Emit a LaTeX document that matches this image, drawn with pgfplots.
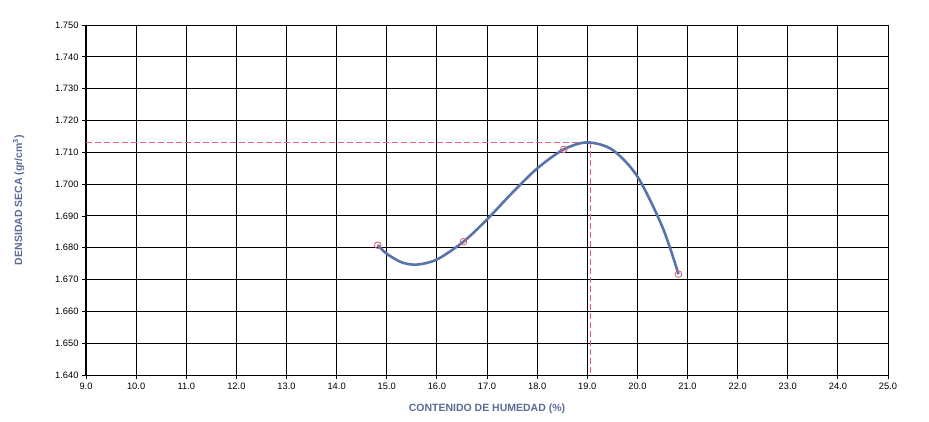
\documentclass[border=0pt]{standalone}
\usepackage{pgfplots}
\pgfplotsset{compat=1.18}
\usepackage{fontspec}
\setmainfont{Liberation Sans}
\definecolor{labcol}{RGB}{88,108,150}
\definecolor{curvecol}{RGB}{88,116,168}
\definecolor{dashcol}{RGB}{228,96,120}
\begin{document}
\begin{tikzpicture}
\begin{axis}[
  name=ax,
  scale only axis,
  width=802pt, height=350pt,
  xmin=9, xmax=25, ymin=1.640, ymax=1.750,
  xtick={9,10,...,25},
  ytick={1.640,1.650,...,1.750},
  grid=major,
  grid style={black, line width=0.9pt},
  axis line style={black, line width=1pt},
  tick style={black, line width=0.8pt},
  tick align=outside,
  major tick length=4pt,
  xtick pos=bottom, ytick pos=left,
  /pgf/number format/assume math mode=true,
  xticklabel style={font=\fontsize{9.3}{11}\selectfont, /pgf/number format/.cd, fixed, fixed zerofill, precision=1},
  yticklabel style={font=\fontsize{9.3}{11}\selectfont, /pgf/number format/.cd, fixed, fixed zerofill, precision=3},
  scaled y ticks=false,
  xlabel={CONTENIDO DE HUMEDAD (\%)},
  ylabel={DENSIDAD SECA (gr/cm\textsuperscript{3})},
  xlabel style={font=\bfseries\fontsize{10.5}{12}\selectfont, color=labcol, yshift=-8pt},
  ylabel style={font=\bfseries\fontsize{10.5}{12}\selectfont, color=labcol, yshift=24pt},
  clip=false,
]
\addplot[dashcol, line width=1.4pt, dash pattern=on 6pt off 3pt] coordinates {(9,1.7131) (19.06,1.7131) (19.06,1.640)};
\addplot[curvecol, line width=2.6pt, smooth] coordinates {
(14.82,1.6808) (15.0,1.6781) (15.3,1.6754) (15.6,1.6747) (16.0,1.6763) (16.53,1.6819)
(17.0,1.6889) (17.5,1.6972) (18.0,1.7049) (18.53,1.7109) (19.0,1.7131) (19.5,1.7108)
(20.0,1.7024) (20.5,1.6865) (20.82,1.6717)};
\addplot[only marks, mark=o, mark size=3.3pt, dashcol, line width=0.9pt] coordinates {
(14.82,1.6808) (16.53,1.6819) (18.53,1.7109) (20.82,1.6717)};
\end{axis}
\pgfresetboundingbox
\path[use as bounding box] ([xshift=-86pt,yshift=-46pt]ax.south west) rectangle ([xshift=41pt,yshift=25pt]ax.north east);
\end{tikzpicture}
\end{document}
